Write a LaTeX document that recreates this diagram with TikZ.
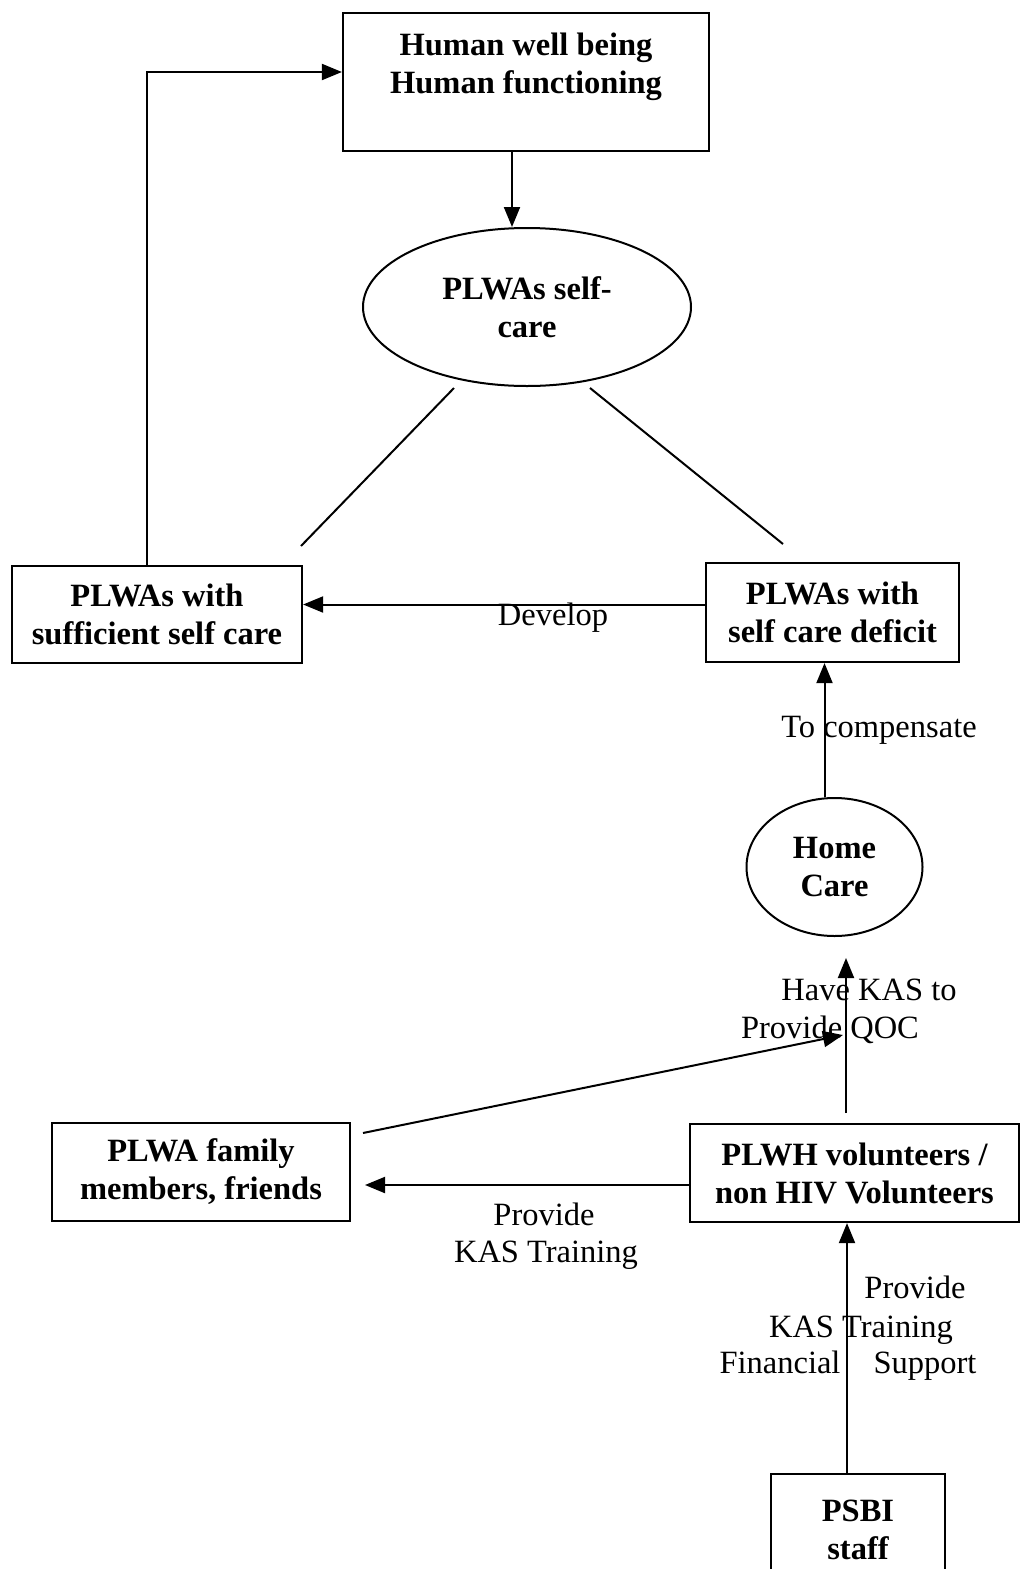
\documentclass[tikz,border=0pt]{standalone}
\usepackage{fontspec}
\setmainfont{Liberation Serif}
\usetikzlibrary{arrows.meta,shapes.geometric,calc}
\tikzset{
  box/.style={draw, line width=2.2pt, rectangle, inner sep=0pt},
  oval/.style={draw, line width=2pt, ellipse, inner sep=0pt},
  btxt/.style={font=\fontsize{32.5}{38}\selectfont\bfseries, align=center, inner sep=0pt},
  lbl/.style={font=\fontsize{32.5}{38}\selectfont, inner sep=0pt, anchor=base},
  arr/.style={line width=2pt, -{Triangle[length=20pt,width=16pt]}},
  ln/.style={line width=2pt}
}
\begin{document}
\begin{tikzpicture}[x=1pt,y=-1pt]
\useasboundingbox[fill=white] (0,0) rectangle (1021,1569);
% boxes
\node[box, minimum width=366pt, minimum height=138pt] (top) at (526,82) {};
\node[btxt] (toptxt) at (526,67) {Human well being\\Human functioning};
\node[oval, minimum width=328pt, minimum height=158pt, btxt] (sc) at (527,307) {PLWAs self-\\care};
\node[box, btxt, minimum width=290pt, minimum height=97pt] (left) at (157,614.5) {PLWAs with\\sufficient self care};
\node[box, btxt, minimum width=253pt, minimum height=99pt] (right) at (832.5,612.5) {PLWAs with\\self care deficit};
\node[oval, btxt, minimum width=176pt, minimum height=138pt] (hc) at (834.5,867) {Home\\Care};
\node[box, btxt, minimum width=298pt, minimum height=98pt] (fam) at (201,1172) {PLWA family\\members, friends};
\node[box, btxt, minimum width=329pt, minimum height=98pt] (vol) at (854.5,1173) {PLWH volunteers /\\non HIV Volunteers};
\node[box, btxt, minimum width=174pt, minimum height=112pt] (psbi) at (858,1530) {PSBI\\staff};
% free ends
\coordinate (l1a) at (454,388);
\coordinate (l1b) at (301,546);
\coordinate (l2a) at (590,388);
\coordinate (l2b) at (783,544);
\coordinate (hcin) at (846,958);
\coordinate (volout) at (846,1113);
\coordinate (famout) at (363,1133);
\coordinate (diagin) at (843,1035);
\coordinate (famin) at (365,1185);
% connectors
\draw[arr] ([xshift=-14pt]top.south) -- ([xshift=-14pt]top.south |- sc.north);
\draw[ln] (l1a) -- (l1b);
\draw[ln] (l2a) -- (l2b);
\draw[arr] ([xshift=-10pt]left.north) |- ([yshift=10pt]top.west);
\draw[arr] ([yshift=8pt]right.west) -- ([yshift=8pt]right.west -| left.east);
\draw[arr] ([xshift=-10pt]hc.north) -- ([xshift=-10pt]hc.north |- right.south);
\draw[arr] (volout) -- (hcin);
\draw[arr] (famout) -- (diagin);
\draw[arr] ([yshift=-12pt]vol.west) -- (famin);
\draw[arr] ([xshift=-11pt]psbi.north) -- ([xshift=-11pt]psbi.north |- vol.south);
% labels
\node[lbl] (dev) at (553,625) {Develop};
\node[lbl] (comp) at (879,737) {To compensate};
\node[lbl] (have) at (869,1000) {Have KAS to};
\node[lbl] (qoc) at (830,1038) {Provide QOC};
\node[lbl] (prov1) at (544,1225) {Provide};
\node[lbl] (kas1) at (546,1262) {KAS Training};
\node[lbl] (prov2) at (915,1298) {Provide};
\node[lbl] (kas2) at (861,1337) {KAS Training};
\node[lbl] (fin) at (780,1373) {Financial};
\node[lbl] (sup) at (925,1373) {Support};
\end{tikzpicture}
\end{document}
